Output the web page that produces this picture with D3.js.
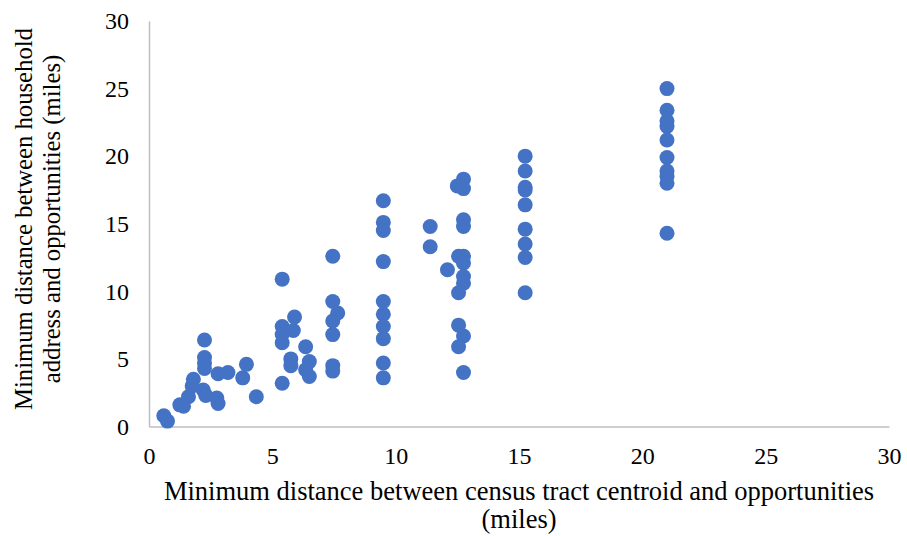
<!DOCTYPE html>
<html>
<head>
<meta charset="utf-8">
<script src="https://cdn.jsdelivr.net/npm/d3@7"></script>
<style>
  html, body { margin: 0; padding: 0; background: #fff; }
  text { font-family: "Liberation Serif", "Times New Roman", serif; fill: #000; }
</style>
</head>
<body>
<script>
// data (miles)
var tractDist = [0.6, 0.75, 1.25, 1.4, 1.6, 1.8, 1.75, 2.2, 2.3, 2.75, 2.8,
  2.25, 2.25, 2.25, 2.25, 2.8, 3.2, 3.8, 3.95, 4.35,
  5.4, 5.4, 5.4, 5.4, 5.4, 5.85, 5.9, 5.75, 5.75, 6.35, 6.5, 6.35, 6.5,
  7.45, 7.45, 7.65, 7.45, 7.45, 7.45, 7.45,
  9.5, 9.5, 9.5, 9.5, 9.5, 9.5, 9.5, 9.5, 9.5, 9.5,
  11.4, 11.4, 12.1,
  12.75, 12.5, 12.75, 12.75, 12.75, 12.55, 12.75, 12.75, 12.75, 12.75, 12.55, 12.55, 12.75, 12.55, 12.75,
  15.25, 15.25, 15.25, 15.25, 15.25, 15.25, 15.25, 15.25, 15.25,
  21, 21, 21, 21, 21, 21, 21, 21, 21, 21]
var householdDist = [0.8, 0.4, 1.6, 1.5, 2.2, 3.5, 3.0, 2.7, 2.3, 2.1, 1.7,
  6.4, 5.1, 4.7, 4.3, 3.9, 4.0, 3.6, 4.6, 2.2,
  3.2, 10.9, 7.4, 6.8, 6.2, 7.1, 8.1, 5.0, 4.5, 5.9, 4.8, 4.2, 3.7,
  12.6, 9.25, 8.4, 7.8, 6.8, 4.5, 4.1,
  16.7, 15.1, 14.5, 12.2, 9.25, 8.3, 7.4, 6.5, 4.7, 3.6,
  14.8, 13.3, 11.6,
  18.3, 17.8, 17.6, 15.3, 14.8, 12.6, 12.6, 12.1, 11.1, 10.6, 9.9, 7.5, 6.7, 5.9, 4.0,
  20.0, 18.9, 17.7, 17.5, 16.4, 14.6, 13.5, 12.5, 9.9,
  25.0, 23.4, 22.6, 22.2, 21.2, 19.9, 18.9, 18.5, 18.0, 14.3]
var xTicks = [0, 5, 10, 15, 20, 25, 30]
var yTicks = [0, 5, 10, 15, 20, 25, 30]
var xTitle = ["Minimum distance between census tract centroid and opportunities", "(miles)"]
var yTitle = ["Minimum distance between household", "address and opportunities (miles)"]

var W = 907, H = 536
var plot = { left: 149, right: 889, top: 21, bottom: 426.5 }
var dotColor = "#4472C4"
var axisColor = "#bfbfbf"

var svg = d3.select("body").append("svg")
  .attr("width", W)
  .attr("height", H)

var x = d3.scaleLinear().domain([0, 30]).range([plot.left, plot.right])
var y = d3.scaleLinear().domain([0, 30]).range([plot.bottom, plot.top])

// axes, no tick marks
var xAxis = svg.append("g")
  .attr("transform", "translate(0," + plot.bottom + ")")
  .call(d3.axisBottom(x).tickValues(xTicks).tickSize(0).tickPadding(20))
var yAxis = svg.append("g")
  .attr("transform", "translate(" + plot.left + ",0)")
  .call(d3.axisLeft(y).tickValues(yTicks).tickSize(0).tickPadding(20))

;[xAxis, yAxis].forEach(function(a) {
  a.select(".domain").attr("stroke", axisColor).attr("stroke-width", 1.5)
  a.selectAll("text")
    .attr("font-family", "Liberation Serif, Times New Roman, serif")
    .attr("font-size", "24px")
    .attr("fill", "#000")
})

// points
svg.append("g").selectAll("circle")
  .data(tractDist.map(function(v, i) { return [v, householdDist[i]] }))
  .enter().append("circle")
  .attr("cx", function(d) { return x(d[0]) })
  .attr("cy", function(d) { return y(d[1]) })
  .attr("r", 7.5)
  .attr("fill", dotColor)

// axis titles
svg.append("g").selectAll("text")
  .data(xTitle)
  .enter().append("text")
  .attr("x", 519)
  .attr("y", function(d, i) { return 500 + i * 28 })
  .attr("text-anchor", "middle")
  .attr("font-size", "26.5px")
  .text(function(d) { return d })

svg.append("g")
  .attr("transform", "translate(0,219) rotate(-90)")
  .selectAll("text")
  .data(yTitle)
  .enter().append("text")
  .attr("x", 0)
  .attr("y", function(d, i) { return 32 + i * 28 })
  .attr("text-anchor", "middle")
  .attr("font-size", "24.7px")
  .text(function(d) { return d })
</script>
</body>
</html>
